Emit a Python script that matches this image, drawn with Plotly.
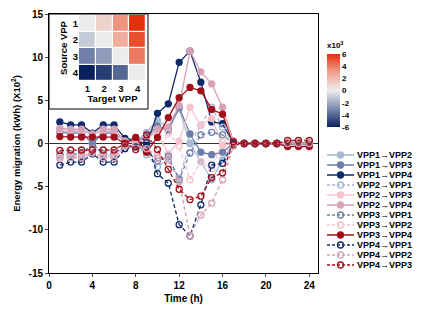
import plotly.graph_objects as go

hours = list(range(1, 25))

# Energy migration values (x10^2 kWh)
vpp1_vpp2 = [1.5, 1.4, 1.4, 0.0, 1.4, 1.4, 0.3, 0.2, 1.3, 2.7, 1.8, 4.0, 0.0, -2.1, -4.2, -1.9, 0.0, 0, 0, 0, 0, 0, 0, 0]
vpp1_vpp3 = [1.3, 1.2, 1.2, 0.0, 1.2, 1.2, 0.3, 0.2, 0.9, 2.0, 1.5, 4.2, 1.1, -1.0, -1.3, -1.0, 0.0, 0, 0, 0, 0, 0, 0, 0]
vpp1_vpp4 = [2.5, 2.15, 2.15, 1.2, 2.15, 2.15, 0.6, 0.4, -0.1, 3.5, 4.6, 9.4, 10.7, 7.1, 2.5, 2.3, 0.0, 0, 0, 0, 0, 0, 0, 0]
vpp2_vpp1 = [-1.5, -1.4, -1.4, 0.0, -1.4, -1.4, -0.3, -0.2, -1.3, -2.7, -1.8, -4.0, 0.0, 2.1, 4.2, 1.9, 0.0, 0, 0, 0, 0, 0, 0, 0]
vpp2_vpp3 = [1.6, 1.5, 1.5, 1.0, 1.5, 1.5, 0.2, 0.1, 0.6, 1.3, -1.2, 0.3, 4.2, 2.1, 2.9, -0.2, 0.0, 0, 0, 0, 0, 0, 0, 0]
vpp2_vpp4 = [1.75, 1.65, 1.65, 1.1, 1.65, 1.65, 0.3, 0.2, 0.6, 1.7, 1.9, 4.4, 10.7, 8.3, 6.9, 4.2, 0.3, 0, 0, 0, 0, 0, 0, 0]
vpp3_vpp1 = [-1.3, -1.2, -1.2, 0.0, -1.2, -1.2, -0.3, -0.2, -0.9, -2.0, -1.5, -4.2, -1.1, 1.0, 1.3, 1.0, 0.0, 0, 0, 0, 0, 0, 0, 0]
vpp3_vpp2 = [-1.6, -1.5, -1.5, -1.0, -1.5, -1.5, -0.2, -0.1, -0.6, -1.3, 1.2, -0.3, -4.2, -2.1, -2.9, 0.2, 0.0, 0, 0, 0, 0, 0, 0, 0]
vpp3_vpp4 = [0.8, 0.75, 0.75, 0.75, 0.75, 0.75, 0.0, 0.7, -1.0, 0.7, 3.0, 5.3, 6.5, 6.1, 3.95, 3.4, -0.2, 0, 0, 0, 0, -0.35, -0.35, -0.35]
vpp4_vpp1 = [-2.5, -2.15, -2.15, -1.2, -2.15, -2.15, -0.6, -0.4, 0.1, -3.5, -4.6, -9.4, -10.7, -7.1, -2.5, -2.3, 0.0, 0, 0, 0, 0, 0, 0, 0]
vpp4_vpp2 = [-1.75, -1.65, -1.65, -1.1, -1.65, -1.65, -0.3, -0.2, -0.6, -1.7, -1.9, -4.4, -10.7, -8.3, -6.9, -4.2, -0.3, 0, 0, 0, 0, 0, 0, 0]
vpp4_vpp3 = [-0.8, -0.75, -0.75, -0.75, -0.75, -0.75, 0.0, -0.7, 1.0, -0.7, -3.0, -5.3, -6.5, -6.1, -3.95, -3.4, 0.2, 0, 0, 0, 0, 0.35, 0.35, 0.35]

series_names = ["VPP1→VPP2", "VPP1→VPP3", "VPP1→VPP4", "VPP2→VPP1", "VPP2→VPP3", "VPP2→VPP4",
                "VPP3→VPP1", "VPP3→VPP2", "VPP3→VPP4", "VPP4→VPP1", "VPP4→VPP2", "VPP4→VPP3"]
series_values = [vpp1_vpp2, vpp1_vpp3, vpp1_vpp4, vpp2_vpp1, vpp2_vpp3, vpp2_vpp4,
                 vpp3_vpp1, vpp3_vpp2, vpp3_vpp4, vpp4_vpp1, vpp4_vpp2, vpp4_vpp3]

# Inset heatmap: source VPP (rows) -> target VPP (columns), x10^3
vpp_labels = ["1", "2", "3", "4"]
heat_values = [
    [0.0, 1.0, 3.3, 6.0],
    [-1.0, 0.0, 2.5, 5.2],
    [-3.3, -2.5, 0.0, 4.0],
    [-6.0, -5.2, -4.0, 0.0],
]

y_ticks = [-15, -10, -5, 0, 5, 10, 15]
x_ticks = [0, 4, 8, 12, 16, 20, 24]

# styles
c_steel = "#a6b8d4"
c_bgrey = "#6c7fa8"
c_navy = "#0d2a6b"
c_lpink = "#f5c3cc"
c_mauve = "#d6a2b5"
c_red = "#a2101a"
styles = [
    (c_steel, "solid"), (c_bgrey, "solid"), (c_navy, "solid"),
    (c_steel, "dash"), (c_lpink, "solid"), (c_mauve, "solid"),
    (c_bgrey, "dash"), (c_lpink, "dash"), (c_red, "solid"),
    (c_navy, "dash"), (c_mauve, "dash"), (c_red, "dash"),
]
DASH = "4px,2.5px"

FONT = "Arial, Liberation Sans, sans-serif"
W, H = 425, 313
ML, MR, MT, MB = 49, 5, 14, 40
PW = W - ML - MR
PH = H - MT - MB


def px_x(p):
    return (p - ML) / PW


def px_y(p):
    return (H - MB - p) / PH


fig = go.Figure()

for name, vals, (col, dash) in zip(series_names, series_values, styles):
    open_m = dash == "dash"
    fig.add_trace(go.Scatter(
        x=hours, y=vals, mode="lines+markers", name=name, showlegend=False,
        line=dict(color=col, width=1.3, dash=DASH if open_m else "solid"),
        marker=dict(symbol="circle-open" if open_m else "circle", size=6,
                    color=col, line=dict(color=col, width=1.3)),
        xaxis="x", yaxis="y"))

# custom legend drawn in its own small axes
for i, (name, (col, dash)) in enumerate(zip(series_names, styles)):
    open_m = dash == "dash"
    fig.add_trace(go.Scatter(
        x=[0, 0.5, 1], y=[i, i, i], mode="lines", showlegend=False,
        line=dict(color=col, width=1.5, dash="3px,2px" if open_m else "solid"),
        xaxis="x3", yaxis="y3", hoverinfo="skip"))
    fig.add_trace(go.Scatter(
        x=[0.5], y=[i], mode="markers", showlegend=False,
        marker=dict(symbol="circle-open" if open_m else "circle", size=6,
                    color=col, line=dict(color=col, width=1.3)),
        xaxis="x3", yaxis="y3", hoverinfo="skip"))
    fig.add_annotation(x=px_x(355), y=i, xref="paper", yref="y3", text=name, showarrow=False,
                       xanchor="left", yanchor="middle",
                       font=dict(family=FONT, size=9, color="black", weight="bold"))

# inset heatmap
colorscale = [
    [0.0, "#08205e"], [0.25, "#7b8bb0"], [0.5, "#ececec"],
    [0.75, "#f0a08c"], [1.0, "#e6300c"],
]
fig.add_trace(go.Heatmap(
    z=heat_values, x=vpp_labels, y=vpp_labels, zmin=-6, zmax=6,
    colorscale=colorscale, xgap=1.2, ygap=1.2, xaxis="x2", yaxis="y2",
    colorbar=dict(x=px_x(327), xanchor="left", y=px_y(83), yanchor="middle",
                  len=88 / PH, lenmode="fraction", thickness=13, outlinewidth=0,
                  tickvals=[-6, -4, -2, 0, 2, 4, 6],
                  ticktext=["-6", "-4", "-2", "0", "2", "4", "6"],
                  ticks="", ticklabelposition="outside",
                  tickfont=dict(family=FONT, size=8, color="black", weight="bold"),
                  title=dict(text="x10<sup>3</sup>", side="top",
                             font=dict(family=FONT, size=8, color="black", weight="bold")),
                  xpad=0, ypad=0)))

# inset frame
fig.add_shape(type="rect", xref="paper", yref="paper",
              x0=0, x1=px_x(148), y0=px_y(109), y1=1,
              fillcolor="white", line=dict(color="black", width=1), layer="below")

axis_font = dict(family=FONT, size=10, color="black", weight="bold")
small_bold = dict(family=FONT, size=9.5, color="black", weight="bold")

fig.update_layout(
    width=W, height=H, margin=dict(l=ML, r=MR, t=MT, b=MB, autoexpand=False),
    paper_bgcolor="white", plot_bgcolor="white",
    font=dict(family=FONT, color="black"),
    xaxis=dict(domain=[0, px_x(318)], range=[0, 24.8], tickvals=x_ticks,
               ticktext=[str(v) for v in x_ticks], ticks="outside", ticklen=3,
               showline=True, linecolor="black", linewidth=1, mirror=True,
               showgrid=False, zeroline=False, tickfont=axis_font, automargin=False,
               title=dict(text="Time (h)", font=axis_font, standoff=4)),
    yaxis=dict(domain=[0, 1], range=[-15, 15], tickvals=y_ticks,
               ticktext=[str(v) for v in y_ticks], ticks="outside", ticklen=3,
               showline=True, linecolor="black", linewidth=1, mirror=True,
               showgrid=False, zeroline=True, zerolinecolor="#333333", zerolinewidth=1,
               tickfont=axis_font, automargin=False,
               title=dict(text="Energy migration (kWh) (X10<sup>2</sup>)",
                          font=dict(family=FONT, size=9.5, color="black", weight="bold"),
                          standoff=6)),
    xaxis2=dict(domain=[px_x(79), px_x(146)], anchor="y2", showgrid=False, zeroline=False,
                showline=False, ticks="", tickfont=small_bold, automargin=False,
                title=dict(text="Target VPP", font=small_bold, standoff=2)),
    yaxis2=dict(domain=[px_y(81), px_y(15)], anchor="x2", autorange="reversed",
                showgrid=False, zeroline=False, showline=False, ticks="",
                tickfont=small_bold, automargin=False,
                title=dict(text="Source VPP", font=small_bold, standoff=3)),
    xaxis3=dict(domain=[px_x(327), px_x(354)], anchor="y3", range=[0, 1], visible=False,
                fixedrange=True),
    yaxis3=dict(domain=[px_y(271), px_y(149)], anchor="x3", range=[11.6, -0.6], visible=False,
                fixedrange=True),
)

fig.write_html("out.html", config={"displayModeBar": False},
               post_script="document.body.style.margin='0';document.body.style.overflow='hidden';")
